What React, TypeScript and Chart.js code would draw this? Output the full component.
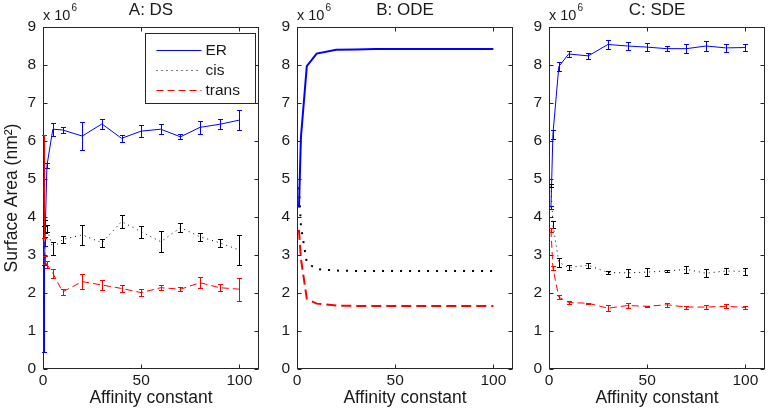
import React, { useEffect, useRef } from "react";
import { Chart, registerables } from "chart.js";

Chart.register(...registerables);

// ---------------- data ----------------
const xTicks = [0, 50, 100];
const yTicks = [0, 1, 2, 3, 4, 5, 6, 7, 8, 9];
const panelTitles = ["A: DS", "B: ODE", "C: SDE"];
const seriesNames = ["ER", "cis", "trans"];
const yLabel = "Surface Area (nm²)";
const xLabel = "Affinity constant";
const exponentBase = "x 10";
const exponentPower = "6";

// A: DS (direct simulation, mean ± error)
const dsX = [0.5, 1, 2, 5, 10, 20, 30, 40, 50, 60, 70, 80, 90, 100];
const dsER = [1.6, 3.35, 5.35, 6.31, 6.29, 6.13, 6.45, 6.07, 6.26, 6.31, 6.11, 6.36, 6.44, 6.55];
const dsERErr = [1.15, 0.12, 0.06, 0.17, 0.07, 0.36, 0.13, 0.1, 0.15, 0.13, 0.07, 0.17, 0.13, 0.27];
const dsCis = [3.6, 3.75, 3.7, 3.18, 3.41, 3.53, 3.32, 3.88, 3.61, 3.35, 3.72, 3.48, 3.32, 3.13];
const dsCisErr = [0.15, 0.17, 0.1, 0.17, 0.1, 0.26, 0.1, 0.17, 0.15, 0.28, 0.12, 0.1, 0.11, 0.39];
const dsTrans = [4.8, 2.87, 2.75, 2.52, 2.03, 2.3, 2.21, 2.12, 2.01, 2.14, 2.1, 2.27, 2.14, 2.1];
const dsTransErr = [1.35, 0.1, 0.1, 0.12, 0.08, 0.2, 0.12, 0.1, 0.1, 0.07, 0.06, 0.15, 0.1, 0.3];

// B: ODE
const odeX = [1, 2, 5, 10, 20, 30, 40, 50, 60, 70, 80, 90, 100];
const odeER = [4.25, 6.1, 7.97, 8.3, 8.4, 8.41, 8.42, 8.42, 8.42, 8.42, 8.42, 8.42, 8.42];
const odeCis = [4.78, 3.75, 2.8, 2.63, 2.59, 2.58, 2.58, 2.58, 2.58, 2.58, 2.58, 2.58, 2.58];
const odeTrans = [3.66, 2.9, 1.85, 1.72, 1.67, 1.66, 1.66, 1.66, 1.66, 1.66, 1.66, 1.66, 1.66];

// C: SDE (mean ± error)
const sdeX = [1, 2, 5, 10, 20, 30, 40, 50, 60, 70, 80, 90, 100];
const sdeER = [4.25, 6.18, 7.96, 8.29, 8.24, 8.54, 8.5, 8.47, 8.43, 8.43, 8.5, 8.45, 8.46];
const sdeERErr = [0.05, 0.12, 0.12, 0.08, 0.08, 0.12, 0.1, 0.1, 0.07, 0.12, 0.13, 0.1, 0.08];
const sdeCis = [4.82, 3.8, 2.81, 2.67, 2.73, 2.54, 2.53, 2.55, 2.58, 2.62, 2.52, 2.58, 2.57];
const sdeCisErr = [0.04, 0.1, 0.12, 0.06, 0.07, 0.05, 0.1, 0.1, 0.03, 0.1, 0.1, 0.08, 0.1];
const sdeTrans = [3.66, 2.66, 1.89, 1.75, 1.73, 1.6, 1.67, 1.65, 1.69, 1.63, 1.63, 1.65, 1.62];
const sdeTransErr = [0.05, 0.06, 0.05, 0.03, 0.02, 0.08, 0.06, 0.02, 0.05, 0.04, 0.06, 0.05, 0.03];

// ---------------- styling / layout ----------------
const W = 772;
const H = 412;
const PLOT_TOP = 27;
const PLOT_BOTTOM = 369;
const PANEL_LEFT = [43, 297, 549];
const PANEL_W = 216;
const FONT = "'Liberation Sans', Arial, Helvetica, sans-serif";
const TEXT = "#1a1a1a";
const AXIS = "#262626";
const BLUE = "#0000ff";
const RED = "#ff0000";
const BLACK = "#000000";

type Series = {
  label: string;
  xs: number[];
  ys: number[];
  err?: number[];
  color: string;
  width: number;
  dash: number[];
};

const thin = { er: [] as number[], cis: [1, 4], trans: [7, 4] };
const thick = { er: [] as number[], cis: [2, 7], trans: [10, 5] };

const panels: { title: string; series: Series[] }[] = [
  {
    title: panelTitles[0],
    series: [
      { label: seriesNames[0], xs: dsX, ys: dsER, err: dsERErr, color: BLUE, width: 1, dash: thin.er },
      { label: seriesNames[1], xs: dsX, ys: dsCis, err: dsCisErr, color: BLACK, width: 1, dash: thin.cis },
      { label: seriesNames[2], xs: dsX, ys: dsTrans, err: dsTransErr, color: RED, width: 1, dash: thin.trans },
    ],
  },
  {
    title: panelTitles[1],
    series: [
      { label: seriesNames[0], xs: odeX, ys: odeER, color: BLUE, width: 2, dash: thick.er },
      { label: seriesNames[1], xs: odeX, ys: odeCis, color: BLACK, width: 2, dash: thick.cis },
      { label: seriesNames[2], xs: odeX, ys: odeTrans, color: RED, width: 2, dash: thick.trans },
    ],
  },
  {
    title: panelTitles[2],
    series: [
      { label: seriesNames[0], xs: sdeX, ys: sdeER, err: sdeERErr, color: BLUE, width: 1, dash: thin.er },
      { label: seriesNames[1], xs: sdeX, ys: sdeCis, err: sdeCisErr, color: BLACK, width: 1, dash: thin.cis },
      { label: seriesNames[2], xs: sdeX, ys: sdeTrans, err: sdeTransErr, color: RED, width: 1, dash: thin.trans },
    ],
  },
];

// ---------------- plugins ----------------
const errorBarPlugin = {
  id: "errbars",
  afterDatasetsDraw(chart: any) {
    const ctx = chart.ctx;
    const xs = chart.scales.x;
    const ys = chart.scales.y;
    ctx.save();
    chart.data.datasets.forEach((ds: any) => {
      if (!ds.errors) return;
      ctx.strokeStyle = ds.borderColor;
      ctx.lineWidth = 1;
      ctx.setLineDash([]);
      ds.data.forEach((p: any, i: number) => {
        const e = ds.errors[i];
        const px = Math.round(xs.getPixelForValue(p.x)) + 0.5;
        const y1 = Math.round(ys.getPixelForValue(p.y - e)) + 0.5;
        const y2 = Math.round(ys.getPixelForValue(p.y + e)) + 0.5;
        ctx.beginPath();
        ctx.moveTo(px, y1);
        ctx.lineTo(px, y2);
        ctx.moveTo(px - 2.5, y1);
        ctx.lineTo(px + 2.5, y1);
        ctx.moveTo(px - 2.5, y2);
        ctx.lineTo(px + 2.5, y2);
        ctx.stroke();
      });
    });
    ctx.restore();
  },
};

function decorPlugin(title: string, showLegend: boolean) {
  return {
    id: "decor",
    beforeDatasetsDraw(chart: any) {
      const ctx = chart.ctx;
      const a = chart.chartArea;
      const xs = chart.scales.x;
      const ys = chart.scales.y;
      ctx.save();
      const L = Math.round(a.left) + 0.5;
      const R = Math.round(a.right) - 0.5;
      const T = Math.round(a.top) + 0.5;
      const B = Math.round(a.bottom) - 0.5;
      ctx.strokeStyle = AXIS;
      ctx.lineWidth = 1;
      ctx.setLineDash([]);
      ctx.strokeRect(L, T, R - L, B - T);
      ctx.beginPath();
      xTicks.forEach((v) => {
        const px = Math.round(xs.getPixelForValue(v)) + 0.5;
        ctx.moveTo(px, B);
        ctx.lineTo(px, B - 4);
        ctx.moveTo(px, T);
        ctx.lineTo(px, T + 4);
      });
      yTicks.forEach((v) => {
        const py = Math.round(ys.getPixelForValue(v)) + 0.5;
        ctx.moveTo(L, py);
        ctx.lineTo(L + 4, py);
        ctx.moveTo(R, py);
        ctx.lineTo(R - 4, py);
      });
      ctx.stroke();
      ctx.restore();
    },
    afterDraw(chart: any) {
      const ctx = chart.ctx;
      const a = chart.chartArea;
      ctx.save();
      // title
      ctx.fillStyle = TEXT;
      ctx.font = `17px ${FONT}`;
      ctx.textAlign = "center";
      ctx.textBaseline = "alphabetic";
      ctx.fillText(title, (a.left + a.right) / 2, 15);

      // exponent label
      ctx.textAlign = "left";
      ctx.font = `14.5px ${FONT}`;
      ctx.fillText(exponentBase, a.left, 20);
      const w = ctx.measureText(exponentBase).width;
      ctx.font = `10px ${FONT}`;
      ctx.fillText(exponentPower, a.left + w + 1, 11);

      if (showLegend) {
        const bx = Math.round(a.right) - 114 + 0.5;
        const by = Math.round(a.top) + 6 + 0.5;
        const bw = 110;
        const bh = 70;
        ctx.fillStyle = "#ffffff";
        ctx.fillRect(bx, by, bw, bh);
        ctx.strokeStyle = AXIS;
        ctx.lineWidth = 1;
        ctx.setLineDash([]);
        ctx.strokeRect(bx, by, bw, bh);
        chart.data.datasets.forEach((ds: any, i: number) => {
          const y = Math.round(by + 16 + i * 20) + 0.5;
          ctx.strokeStyle = ds.borderColor;
          ctx.lineWidth = ds.borderWidth;
          ctx.setLineDash(ds.borderDash || []);
          ctx.beginPath();
          ctx.moveTo(bx + 11, y);
          ctx.lineTo(bx + 56, y);
          ctx.stroke();
          ctx.setLineDash([]);
          ctx.fillStyle = TEXT;
          ctx.font = `15.5px ${FONT}`;
          ctx.textAlign = "left";
          ctx.textBaseline = "middle";
          ctx.fillText(ds.label, bx + 60, y);
        });
      }
      ctx.restore();
    },
  };
}

function buildConfig(p: { title: string; series: Series[] }, i: number): any {
  const left = PANEL_LEFT[i];
  const yW = i === 0 ? left : 24;
  return {
    type: "line",
    data: {
      datasets: p.series.map((s) => ({
        label: s.label,
        data: s.xs.map((x, k) => ({ x, y: s.ys[k] })),
        errors: s.err,
        borderColor: s.color,
        backgroundColor: s.color,
        borderWidth: s.width,
        borderDash: s.dash,
        borderCapStyle: "butt",
        pointRadius: 0,
        pointHoverRadius: 0,
        tension: 0,
        fill: false,
      })),
    },
    options: {
      animation: false,
      responsive: false,
      devicePixelRatio: 1,
      events: [],
      layout: {
        padding: { left: left - yW, right: W - left - PANEL_W, top: PLOT_TOP, bottom: 0 },
      },
      plugins: {
        legend: { display: false },
        tooltip: { enabled: false },
        title: { display: false },
      },
      scales: {
        x: {
          type: "linear",
          min: 0,
          max: 110,
          grid: { display: false, drawTicks: false },
          border: { display: false },
          afterBuildTicks: (s: any) => {
            s.ticks = xTicks.map((v) => ({ value: v }));
          },
          afterFit: (s: any) => {
            s.height = H - PLOT_BOTTOM;
          },
          ticks: {
            font: { family: FONT, size: 15.5 },
            color: TEXT,
            padding: 2,
            maxRotation: 0,
            autoSkip: false,
          },
          title: {
            display: true,
            text: xLabel,
            font: { family: FONT, size: 17.5 },
            color: TEXT,
            padding: { top: 0, bottom: 3 },
          },
        },
        y: {
          type: "linear",
          min: 0,
          max: 9,
          grid: { display: false, drawTicks: false },
          border: { display: false },
          afterBuildTicks: (s: any) => {
            s.ticks = yTicks.map((v) => ({ value: v }));
          },
          afterFit: (s: any) => {
            s.width = yW;
          },
          ticks: {
            font: { family: FONT, size: 15.5 },
            color: TEXT,
            padding: 7,
            autoSkip: false,
          },
          title: {
            display: i === 0,
            text: yLabel,
            font: { family: FONT, size: 17.5 },
            color: TEXT,
            padding: { top: 2, bottom: 0 },
          },
        },
      },
    },
    plugins: [errorBarPlugin, decorPlugin(p.title, i === 0)],
  };
}

export default function App() {
  const r0 = useRef<HTMLCanvasElement>(null);
  const r1 = useRef<HTMLCanvasElement>(null);
  const r2 = useRef<HTMLCanvasElement>(null);
  const refs = [r0, r1, r2];

  useEffect(() => {
    const charts = panels.map((p, i) => new Chart(refs[i].current as HTMLCanvasElement, buildConfig(p, i)));
    return () => charts.forEach((c) => c.destroy());
  }, []);

  return (
    <div style={{ position: "absolute", left: 0, top: 0, width: W, height: H, background: "#ffffff" }}>
      {refs.map((r, i) => (
        <canvas
          key={i}
          ref={r}
          width={W}
          height={H}
          style={{ position: "absolute", left: 0, top: 0, width: W, height: H }}
        />
      ))}
    </div>
  );
}
